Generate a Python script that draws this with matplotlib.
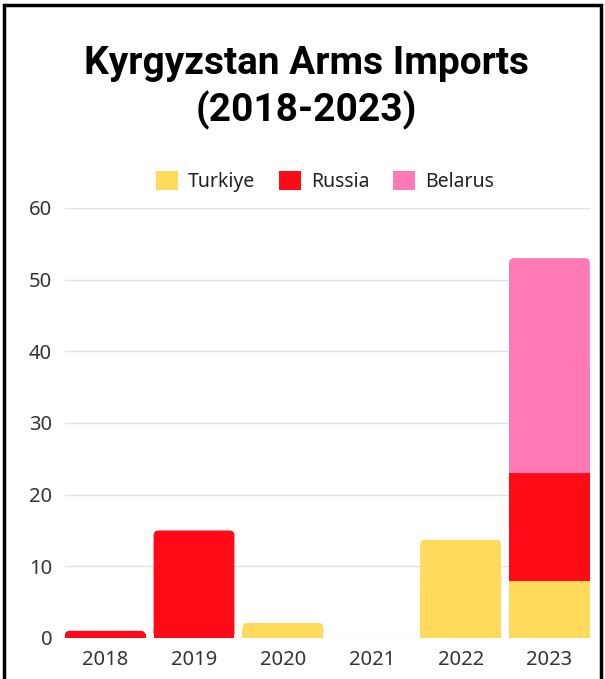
import matplotlib
matplotlib.use("Agg")
import matplotlib.pyplot as plt
from matplotlib.patches import FancyBboxPatch, Rectangle, Patch
import numpy as np

years = ["2018", "2019", "2020", "2021", "2022", "2023"]
turkiye = [0, 0, 2.1, 0, 13.7, 8]
russia = [1, 15, 0, 0, 0, 15]
belarus = [0, 0, 0, 0, 0, 30]
series_names = ["Turkiye", "Russia", "Belarus"]
colors = ["#FFDA5C", "#FF0A17", "#FF7AB4"]
yticks = [0, 10, 20, 30, 40, 50, 60]

plt.rcParams['font.family'] = ['Noto Sans', 'DejaVu Sans']

fig = plt.figure(figsize=(6.05, 6.79), dpi=100)
ax = fig.add_axes([0.107, 0.0604, 0.868, 0.6333])

x = np.arange(len(years))
width = 0.91
data = [turkiye, russia, belarus]
bottoms = np.zeros(len(years))
all_bars = []
for vals, col in zip(data, colors):
    bars = ax.bar(x, vals, width, bottom=bottoms, color=col, zorder=3)
    all_bars.append((bars, vals, bottoms.copy()))
    bottoms = bottoms + np.array(vals)

ax.set_xlim(-width / 2, len(years) - 1 + width / 2)
ax.set_ylim(0, 60)
ax.set_yticks(yticks)
ax.set_xticks(x)
ax.set_xticklabels(years)
ax.tick_params(axis='both', length=0, labelsize=14.5, labelcolor="#333333")
ax.tick_params(axis='y', pad=9)
ax.tick_params(axis='x', pad=9)
for s in ax.spines.values():
    s.set_visible(False)
ax.grid(axis='y', color="#E3E3E3", linewidth=1, zorder=0)
ax.set_axisbelow(True)

# round the top corners of the topmost segment of each stack
fig.canvas.draw()
px_x = ax.transData.transform([(1, 0)])[0][0] - ax.transData.transform([(0, 0)])[0][0]
px_y = ax.transData.transform([(0, 1)])[0][1] - ax.transData.transform([(0, 0)])[0][1]
r_px = 5
for i in range(len(years)):
    top_layer = None
    for k, vals in enumerate(data):
        if vals[i] > 0:
            top_layer = k
    if top_layer is None:
        continue
    bars, vals, bots = all_bars[top_layer]
    p = bars[i]
    x0, y0, w, h = p.get_x(), p.get_y(), p.get_width(), p.get_height()
    col = p.get_facecolor()
    p.set_visible(False)
    rx = r_px / px_x
    ry = r_px / px_y
    rr = FancyBboxPatch((x0, y0), w, h,
                        boxstyle=f"round,pad=0,rounding_size={rx}",
                        mutation_aspect=ry / rx,
                        facecolor=col, edgecolor='none', zorder=3)
    ax.add_patch(rr)
    ax.add_patch(Rectangle((x0, y0), w, h * 0.5,
                           facecolor=col, edgecolor='none', zorder=3))

title_font = ['Roboto', 'DejaVu Sans']
fig.text(0.506, 0.907, "Kyrgyzstan Arms Imports", ha='center', va='center',
         fontsize=28, fontweight='bold', color='black', family=title_font)
fig.text(0.506, 0.838, "(2018-2023)", ha='center', va='center',
         fontsize=28, fontweight='bold', color='black', family=title_font)

handles = [Patch(facecolor=c, edgecolor='none') for c in colors]
fig.legend(handles, series_names, loc='center', bbox_to_anchor=(0.537, 0.733),
           ncol=3, frameon=False, fontsize=14, handlelength=1.15, handleheight=1.15,
           handletextpad=0.5, columnspacing=1.2, labelcolor="#222222")

border = Rectangle((0.006, -0.1), 0.988, 1.093, transform=fig.transFigure,
                   fill=False, edgecolor='black', linewidth=2.5)
fig.patches.append(border)

fig.savefig("out.png", dpi=100)
